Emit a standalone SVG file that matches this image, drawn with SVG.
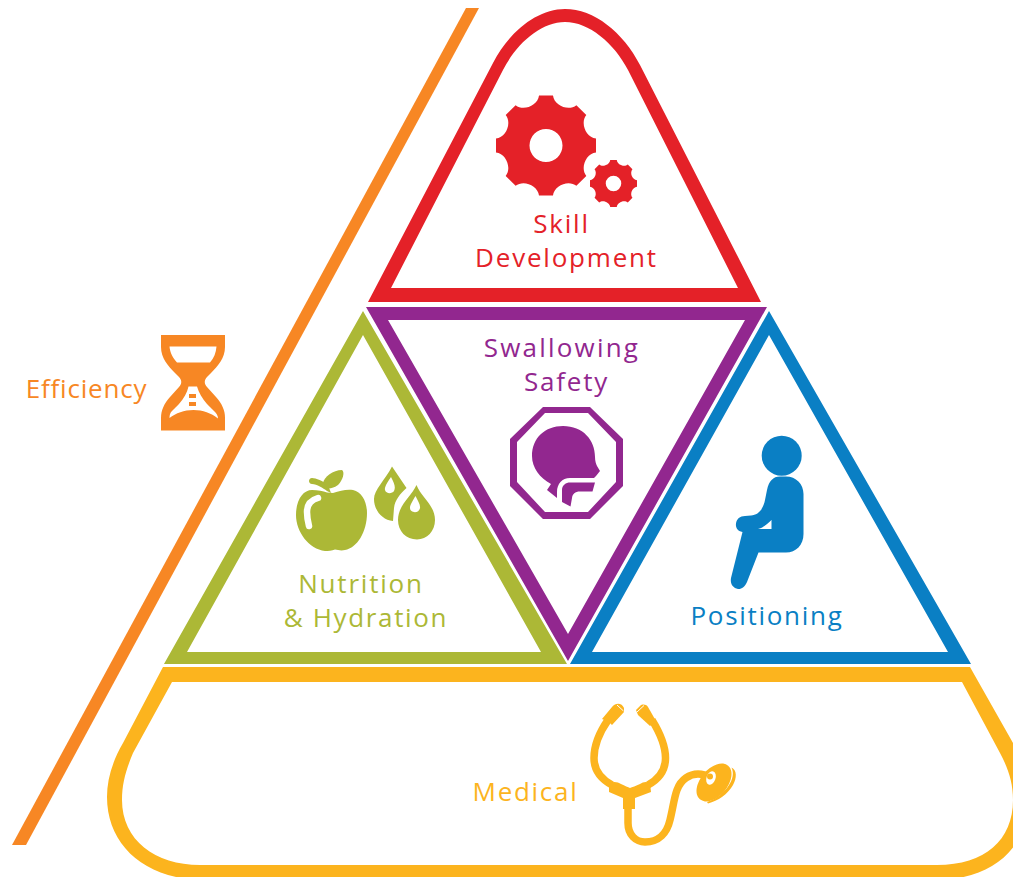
<svg xmlns="http://www.w3.org/2000/svg" width="1013" height="877" viewBox="0 0 1013 877">
<defs>
<path id="gear" fill-rule="evenodd" d="M-7 -50H7C8 -40 22.600 -33.900 30.400 -40.300L40.300 -30.400C33.900 -22.600 40 -8 50 -7V7C40 8 33.900 22.600 40.300 30.400L30.400 40.300C22.600 33.900 8 40 7 50H-7C-8 40 -22.600 33.900 -30.400 40.300L-40.300 30.400C-33.900 22.600 -40 8 -50 7V-7C-40 -8 -33.900 -22.600 -40.300 -30.400L-30.400 -40.300C-22.600 -33.900 -8 -40 -7 -50ZM0 -16.500A16.500 16.500 0 1 0 0 16.500A16.500 16.500 0 1 0 0 -16.500Z"/>
</defs>
<style>
.lbl{font-family:"Open Sans","Noto Sans","DejaVu Sans",sans-serif;font-size:26px;text-anchor:middle}
.red{fill:#e42128}.purple{fill:#92278f}.olive{fill:#acb836}.blue{fill:#0a7fc4}.orange{fill:#f78724}.yellow{fill:#fcb41e}
</style>
<g id="connectors"><polygon id="efficiency-line" class="orange" points="466,8 479,8 26,845 12,845"/></g>
<g id="skill-development" class="red">
<path fill-rule="evenodd" d="M368 302L493 63C509 32 537 9 565 9C594 9 623 32 640 65L761 302ZM391 288H738L628 70C614 43 589 22 565 22C541 22 517 43 503 70Z"/>
<use href="#gear" transform="translate(546 145.500)"/>
<use href="#gear" transform="translate(613.500 183.500) scale(.47)"/>
<text class="lbl" x="561.500" y="233" letter-spacing="1.800">Skill</text>
<text class="lbl" x="566.500" y="267" letter-spacing="1.800">Development</text>
</g>
<g id="swallowing-safety" class="purple">
<path fill-rule="evenodd" d="M366 307H767L568 661ZM388 320L568 634L745 320Z"/>
<path fill-rule="evenodd" d="M543 407H590L623 439V486L590 519H543L510 486V439ZM545 413L517 442V482L545 512H588L616 482V442L588 413Z"/>
<path d="M547 490L551 484C540 478 532 468 532 456C532 438 545 426 563 426C583 426 595 440 595 457C595 461 596 464 597 466L600 471L596 476L594 478L570 478C562 478 557 484 557 492V498Z"/>
<path d="M570 482.500H595L592.500 491.500H580C575 491.500 572.500 494 572 498L570.500 506.500L562 502V490C562 485 566 482.500 570 482.500Z"/>
<text class="lbl" x="562" y="357" letter-spacing="2.200">Swallowing</text>
<text class="lbl" x="566.500" y="391" letter-spacing="1.800">Safety</text>
</g>
<g id="nutrition-hydration" class="olive">
<path fill-rule="evenodd" d="M363 311L567 664H164ZM363 335L187 652H541Z"/>
<path d="M333 493C340 491 346 489 353 490C362 492 367 502 367 513C367 532 357 548 345 550C341 551 338 550 335 549.500C332 550.500 328 551 325 551C309 549 296 532 296 515C296 500 303 490 312 490C318 490 323 491 327 492.500Z"/>
<path d="M312 478C316 478 323 481 328 485L331 493L327 491C323 488 317 484 312 484C308 484 308 478 312 478Z"/>
<path d="M323 483C324 477 333 470 342 470C345 472 343 480 338 485C334 488 329 489 326 488Z"/>
<path d="M318 498C311 500 307 505 307 512C307 518 308 522 309 526" fill="none" stroke="#fff" stroke-width="6.500" stroke-linecap="round"/>
<path fill-rule="evenodd" d="M392 466.500L406.500 488C400 494 395 500 394 508L393 521C382 520 374 510 374 499C374 490 385 480 392 466.500ZM391 477C386 484 384.500 488 385 490C386 494 392 494 394 491C396 487 394 483 391 477Z"/>
<path fill-rule="evenodd" d="M416.500 485C421 497 435 505 435 520C435 531 427 539.500 417 539.500C406 539.500 398 531 398 520C398 505 411 497 416.500 485ZM415.500 496C412 502 410 505 410 508C410 513 419 514 420 508C420.500 505 418 501 415.500 496Z"/>
<text class="lbl" x="361" y="593" letter-spacing="1.800">Nutrition</text>
<text class="lbl" x="366" y="627" letter-spacing="1.650">&amp; Hydration</text>
</g>
<g id="positioning" class="blue">
<path fill-rule="evenodd" d="M769 311L971 664H570ZM769 335L592 652H948Z"/>
<circle cx="781.700" cy="455.700" r="20"/>
<path fill-rule="evenodd" d="M780 476.500H786C796 476.500 803.500 484 803.500 494V534C803.500 545 796 552.500 786 552.500H758.500L747 582C745 587 741 589.500 738 589C733 588 730 584 731 578L742.500 532C737 531 735.500 527 736 523.500C736.500 519 740 516 745 516L751 515.500C758 515 763 510 765 500L767 490C769 481 773 476.500 780 476.500ZM771.500 520C767 524 763 528 758 529H771.500Z"/>
<text class="lbl" x="767" y="625" letter-spacing="1.700">Positioning</text>
</g>
<g id="efficiency" class="orange">
<path fill-rule="evenodd" d="M161 335H225V347C225 358 218 366 211 373L207 377C204 380 204 384 207 387L216 397C222 404 225 410 225 418V430.500H161V418C161 410 164 404 170 397L179 387C182 384 182 380 179 377L175 373C168 366 161 358 161 347ZM169.500 346.500C170 353 173 358 177 362.500H210C214 358 216 353 216.500 346.500ZM188.500 386.500C187 393 184 398 179 404L172 411C170 413 169.500 415 169.500 418C176 413 184 410 193.500 410C203 410 211 413 218 418.500C218 415 216 413 214 411L207 404C202 398 199 393 197 386.500H188.500Z"/>
<rect x="189" y="394" width="7" height="4"/>
<rect x="189" y="402" width="7" height="4"/>
<text class="lbl" x="86.500" y="398" letter-spacing=".8">Efficiency</text>
</g>
<g id="medical" class="yellow">
<path fill-rule="evenodd" d="M163 667H970L1013 743C1023 760 1028 780 1028 800C1028 850 990 880 935 880H205C145 880 107 845 107 797C107 780 112 762 123 743ZM172 682L133 753C126 770 122 783 122 800C122 840 155 865 200 865H937C985 865 1013 840 1013 800C1013 782 1008 768 1000 753L962 682Z"/>
<g fill="none" stroke="#fcb41e" stroke-width="7.500">
<path d="M608 720C599 733 594 746 594 758C594 770 601 779 612 785"/>
<path d="M652 720C660 733 665.500 746 665.500 758C665.500 770 659 779 648 785"/>
<path d="M628 806V823C628 835 636 842 645 842C659 842 667 833 670 820C673 808 674 798 677 790C681 779 690 774 698 774C702 774 706 775 709 777"/>
</g>
<path d="M609 783C614 781 618 782 621 784C625 786 628 787 630 788C632 787 636 786 640 784C643 782 646 781 650 783L651 792L635 798V809H623V798L609 792Z"/>
<path d="M602 719L612 707C616 702 622 703 624 708V712L612 725L609 722Z"/>
<path d="M636 710L640 706C642 704 646 704 648 707L656 721L650 726L638 715Z"/>
<path d="M617 705L623.500 711M637 712L644 705.500" fill="none" stroke="#fff" stroke-width="1"/>
<ellipse cx="714" cy="782.500" rx="22" ry="13.500" transform="rotate(-50 714 782.500)"/>
<ellipse cx="711" cy="778" rx="4.500" ry="7" transform="rotate(20 711 778)" fill="#fff"/>
<circle cx="710" cy="776.500" r="3"/>
<path d="M731.500 767.500C737 770 737 778 733 785C728 794 718 801 708 803.500L707 802C716 799 724 793 729 785C733 779 734 773 731.500 767.500Z"/>
<text class="lbl" x="525.500" y="801" letter-spacing="1.700">Medical</text>
</g>
</svg>
